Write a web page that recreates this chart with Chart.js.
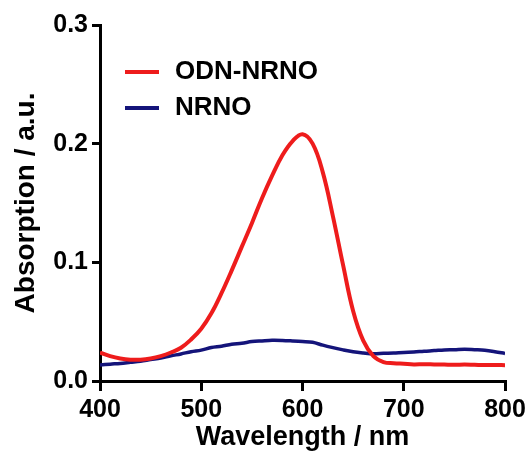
<!DOCTYPE html>
<html>
<head>
<meta charset="utf-8">
<script src="https://cdn.jsdelivr.net/npm/chart.js@4.4.1/dist/chart.umd.min.js"></script>
<style>
  html, body { margin: 0; padding: 0; background: #fff; }
  #wrap { width: 531px; height: 465px; }
</style>
</head>
<body>
<div id="wrap"><canvas id="absChart" width="531" height="465"></canvas></div>
<script>
// Absorption spectra, 400-800 nm in 10 nm steps
const wavelengths = [400, 410, 420, 430, 440, 450, 460, 470, 480, 490,
  500, 510, 520, 530, 540, 550, 560, 570, 580, 590,
  600, 610, 620, 630, 640, 650, 660, 670, 680, 690,
  700, 710, 720, 730, 740, 750, 760, 770, 780, 790, 800];

const odnNrno = [0.024, 0.021, 0.019, 0.018, 0.018, 0.019, 0.021, 0.024, 0.028, 0.035,
  0.044, 0.057, 0.074, 0.093, 0.113, 0.133, 0.154, 0.173, 0.190, 0.202,
  0.208, 0.200, 0.176, 0.139, 0.098, 0.059, 0.034, 0.021, 0.016, 0.015,
  0.0145, 0.014, 0.0142, 0.014, 0.0138, 0.0136, 0.0138, 0.0136, 0.0134, 0.0135, 0.0133];

const nrno = [0.0135, 0.0142, 0.0148, 0.0157, 0.0166, 0.018, 0.0193, 0.0212, 0.0228, 0.0247,
  0.026, 0.0282, 0.0293, 0.031, 0.0318, 0.0332, 0.0338, 0.0343, 0.0342, 0.0338,
  0.0333, 0.0326, 0.0302, 0.0281, 0.0262, 0.0246, 0.0236, 0.0229, 0.0233, 0.0236,
  0.0241, 0.0244, 0.0251, 0.0256, 0.0262, 0.0264, 0.0268, 0.0264, 0.0259, 0.0247, 0.0232];

const seriesNames = ['ODN-NRNO', 'NRNO'];
const seriesColors = ['#ee1c1c', '#14147a'];
const xTicks = [400, 500, 600, 700, 800];
const yTicks = [0, 0.1, 0.2, 0.3];

const toPoints = ys => wavelengths.map((x, i) => ({ x: x, y: ys[i] }));

// legend drawn inside the plot, upper left
const insideLegend = {
  id: 'insideLegend',
  afterDraw(chart) {
    const ctx = chart.ctx;
    ctx.save();
    ctx.font = 'bold 26px "Liberation Sans", Arial, sans-serif';
    ctx.textBaseline = 'middle';
    chart.data.datasets.forEach((ds, i) => {
      const y = 72 + i * 36;
      ctx.strokeStyle = ds.borderColor;
      ctx.lineWidth = 4;
      ctx.beginPath();
      ctx.moveTo(125, y);
      ctx.lineTo(159, y);
      ctx.stroke();
      ctx.fillStyle = '#000';
      ctx.fillText(ds.label, 175, y);
    });
    ctx.restore();
  }
};

const font = (size) => ({ family: '"Liberation Sans", Arial, sans-serif', size: size, weight: 'bold' });

new Chart(document.getElementById('absChart').getContext('2d'), {
  type: 'line',
  data: {
    datasets: [
      { label: seriesNames[0], data: toPoints(odnNrno), borderColor: seriesColors[0], borderWidth: 4, pointRadius: 0, tension: 0.4 },
      { label: seriesNames[1], data: toPoints(nrno), borderColor: seriesColors[1], borderWidth: 3.5, pointRadius: 0, tension: 0.35 }
    ]
  },
  options: {
    responsive: false,
    animation: false,
    layout: { padding: { top: 25, right: 26, bottom: 0, left: 0 } },
    plugins: { legend: { display: false }, tooltip: { enabled: false } },
    scales: {
      x: {
        type: 'linear',
        min: 400,
        max: 800,
        afterFit: s => { s.height = 84; },
        afterBuildTicks: s => { s.ticks = xTicks.map(v => ({ value: v })); },
        ticks: { color: '#000', font: font(25), padding: 4, maxRotation: 0 },
        grid: { drawOnChartArea: false, color: '#000', lineWidth: 3, tickLength: 10 },
        border: { color: '#000', width: 3 },
        title: { display: true, text: 'Wavelength / nm', color: '#000', font: font(27), padding: { top: 0, bottom: 11 } }
      },
      y: {
        min: 0,
        max: 0.3,
        afterFit: s => { s.width = 100; },
        afterBuildTicks: s => { s.ticks = yTicks.map(v => ({ value: v })); },
        ticks: { color: '#000', font: font(25), padding: 4, callback: v => v.toFixed(1) },
        grid: { drawOnChartArea: false, color: '#000', lineWidth: 3, tickLength: 8 },
        border: { color: '#000', width: 3 },
        title: { display: true, text: 'Absorption / a.u.', color: '#000', font: font(28), padding: { top: 9, bottom: 0 } }
      }
    }
  },
  plugins: [insideLegend]
});
</script>
</body>
</html>
